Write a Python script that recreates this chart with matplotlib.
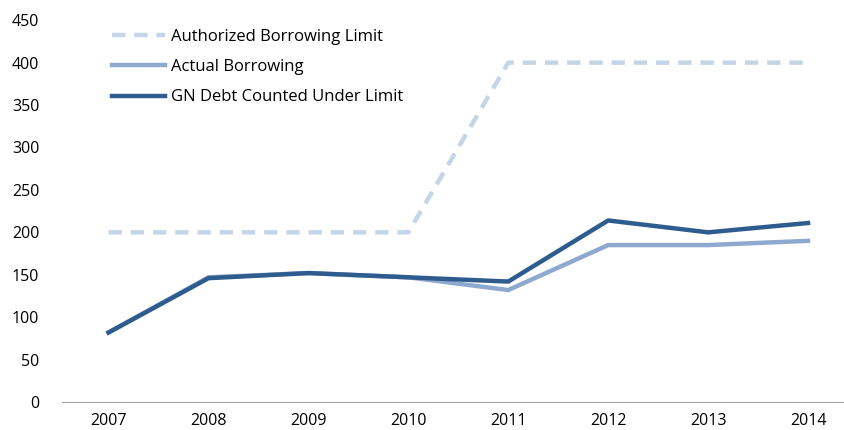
import matplotlib
matplotlib.use("Agg")
import matplotlib.pyplot as plt

years = ["2007", "2008", "2009", "2010", "2011", "2012", "2013", "2014"]
authorized = [200, 200, 200, 200, 400, 400, 400, 400]
actual = [82, 147, 152, 147, 132, 185, 185, 190]
gn_debt = [82, 146, 152, 147, 142, 214, 200, 211]

plt.rcParams['font.family'] = ['Open Sans', 'DejaVu Sans']
fig = plt.figure(figsize=(8.44, 4.30), dpi=100)
ax = fig.add_axes([0.073, 0.065, 0.927, 0.888])
x = list(range(len(years)))
ax.plot(x, authorized, color="#C5D5E8", lw=3.2, ls=(0, (3, 2)), label="Authorized Borrowing Limit")
ax.plot(x, actual, color="#8EA9CF", lw=3.2, label="Actual Borrowing")
ax.plot(x, gn_debt, color="#2F5C8F", lw=3.2, label="GN Debt Counted Under Limit")

ax.set_xlim(-0.47, 7.36)
ax.set_ylim(0, 450)
ax.set_yticks(range(0, 451, 50))
ax.set_xticks(x)
ax.set_xticklabels(years)
for s in ["top", "right", "left"]:
    ax.spines[s].set_visible(False)
ax.spines["bottom"].set_color("#A0A0A0")
ax.tick_params(axis="both", length=0, labelsize=11.5, colors="#000000")
ax.tick_params(axis="x", pad=8)
ax.tick_params(axis="y", pad=16)
leg = ax.legend(loc="upper left", bbox_to_anchor=(0.045, 1.016), frameon=False, fontsize=12,
                handlelength=3.2, handletextpad=0.35, labelspacing=0.85)
fig.savefig("out.png", dpi=100)
